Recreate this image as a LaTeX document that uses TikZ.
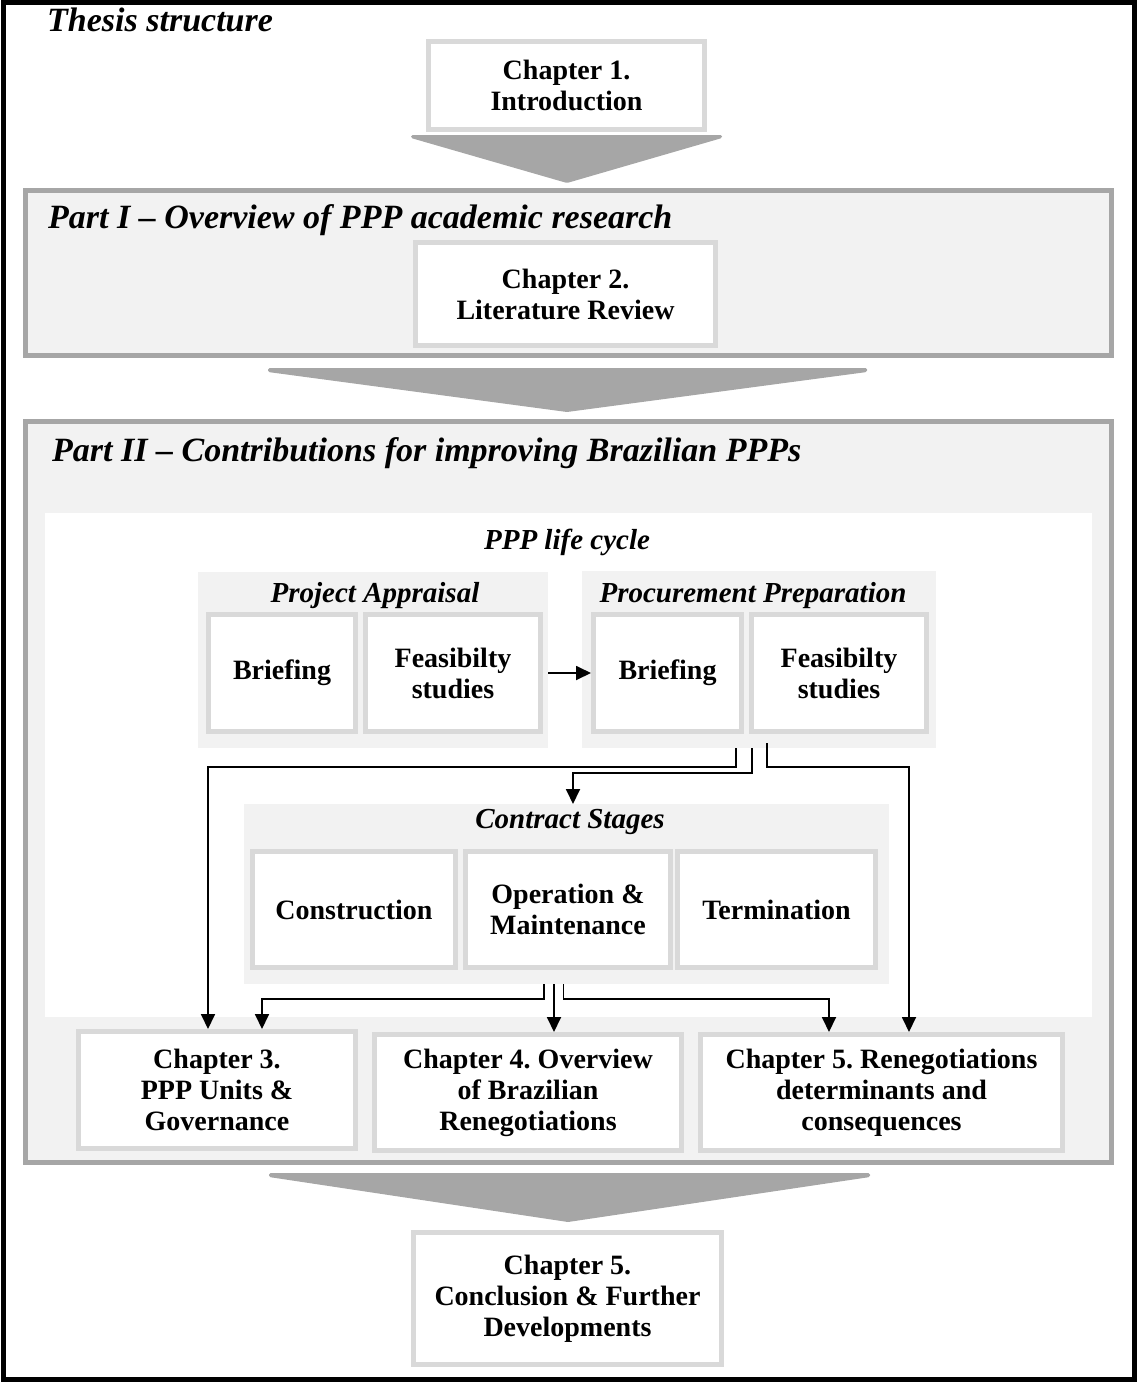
\documentclass[tikz,border=0pt]{standalone}
\usepackage{fontspec}
\setmainfont{Liberation Serif}
\usetikzlibrary{arrows.meta}
\definecolor{boxgray}{HTML}{D9D9D9}
\definecolor{partgray}{HTML}{A6A6A6}
\definecolor{grpfill}{HTML}{F2F2F2}
\frenchspacing
\tikzset{
  chap/.style={draw=boxgray, line width=5pt, fill=white, align=center, inner sep=2pt,
    font=\fontsize{28}{31}\selectfont\bfseries},
  part/.style={draw=partgray, line width=5pt, fill=grpfill, inner sep=0pt},
  grp/.style={fill=grpfill, inner sep=0pt, outer sep=0pt},
  ttl/.style={anchor=base west, inner sep=0pt, font=\fontsize{34}{39}\selectfont\bfseries\itshape},
  sub/.style={anchor=base, inner sep=0pt, font=\fontsize{29}{32}\selectfont\bfseries\itshape},
  link/.style={line width=1.8pt, -{Triangle[width=14pt,length=15pt]}},
  chev/.style={fill=partgray, rounded corners=1.5pt}
}
\begin{document}
\begin{tikzpicture}[x=1pt, y=-1pt]
\useasboundingbox (0,0) rectangle (1137,1382);
\draw[line width=5pt] (3,2.5) rectangle (1134.5,1379.5);

\node[part, minimum width=1086pt, minimum height=165pt] (part1) at (568.5,273) {};
\node[part, minimum width=1086pt, minimum height=741pt] (part2) at (568.5,792) {};
\node[fill=white, inner sep=0pt, minimum width=1047pt, minimum height=504pt] (life) at (568.5,765) {};

\node[ttl] (t0) at (47,31) {Thesis structure};
\node[ttl] (t1) at (48,228) {Part I -- Overview of PPP academic research};
\node[ttl] (t2) at (52,461) {Part II -- Contributions for improving Brazilian PPPs};

\node[chap, minimum width=276pt, minimum height=88pt] (ch1) at (566.5,85.5) {Chapter 1.\\Introduction};
\node[chap, minimum width=300pt, minimum height=103pt] (ch2) at (565.5,294) {Chapter 2.\\Literature Review};

\node[sub] (lc) at (567,549) {PPP life cycle};
\node[grp, minimum width=350pt, minimum height=176pt] (pagrp) at (373,660) {};
\node[grp, minimum width=354pt, minimum height=177pt] (ppgrp) at (759,659.5) {};
\node[sub] (pat) at (375,602) {Project Appraisal};
\node[sub] (ppt) at (753,602) {Procurement Preparation};
\node[chap, minimum width=147pt, minimum height=117pt] (pabrief) at (282,673) {Briefing};
\node[chap, minimum width=175pt, minimum height=117pt] (pafeas) at (453,673) {Feasibilty\\studies};
\node[chap, minimum width=148pt, minimum height=117pt] (ppbrief) at (667.5,673) {Briefing};
\node[chap, minimum width=175pt, minimum height=117pt] (ppfeas) at (839,673) {Feasibilty\\studies};

\node[grp, minimum width=645pt, minimum height=180pt] (csgrp) at (566.5,894) {};
\node[sub] (cst) at (570,828) {Contract Stages};
\node[chap, minimum width=203pt, minimum height=116pt] (cons) at (354,909.5) {Construction};
\node[chap, minimum width=205pt, minimum height=116pt] (opm) at (568,909.5) {Operation \&\\Maintenance};
\node[chap, minimum width=198pt, minimum height=116pt] (term) at (776.5,909.5) {Termination};

\node[chap, minimum width=277pt, minimum height=117pt] (ch3) at (217,1090) {Chapter 3.\\PPP Units \&\\Governance};
\node[chap, minimum width=307pt, minimum height=116pt] (ch4) at (528,1092.5) {Chapter 4. Overview\\of Brazilian\\Renegotiations};
\node[chap, minimum width=362pt, minimum height=116pt] (ch5) at (881.5,1092.5) {Chapter 5. Renegotiations\\determinants and\\consequences};
\node[chap, minimum width=308pt, minimum height=132pt] (ch6) at (567.5,1298.5) {Chapter 5.\\Conclusion \& Further\\Developments};

\fill[chev] (411,135) -- (722,135) -- (722,138) -- (567,183) -- (411,138) -- cycle;
\fill[chev] (268,368) -- (867,368) -- (867,372) -- (567,412) -- (268,372) -- cycle;
\fill[chev] (269,1173) -- (870,1173) -- (870,1177) -- (568,1222) -- (269,1177) -- cycle;

\draw[link] (pagrp.east |- ppbrief.west) -- (ppbrief.west);

\coordinate (p1) at ([xshift=-23pt]ppgrp.south);
\coordinate (p2) at ([xshift=-7pt]ppgrp.south);
\coordinate (p3) at ([xshift=8pt,yshift=5pt]ppgrp.south);
\draw[link] (p1) -- ++(0,19) -| ([xshift=-9pt]ch3.north);
\draw[link] (p2) -- ++(0,25) -| ([xshift=6.5pt]csgrp.north);
\draw[link] (p3) -- ++(0,24) -| ([xshift=27.5pt]ch5.north);

\coordinate (cA) at ([xshift=-22.5pt]csgrp.south);
\coordinate (cB) at ([xshift=-12.5pt]csgrp.south);
\coordinate (cC) at ([xshift=-3pt]csgrp.south);
\draw[link] (cA) -- ++(0,15) -| ([xshift=45pt]ch3.north);
\draw[link] (cB) -- (cB |- ch4.north);
\draw[link] (cC) -- ++(0,15) -| ([xshift=-52.5pt]ch5.north);
\end{tikzpicture}
\end{document}
